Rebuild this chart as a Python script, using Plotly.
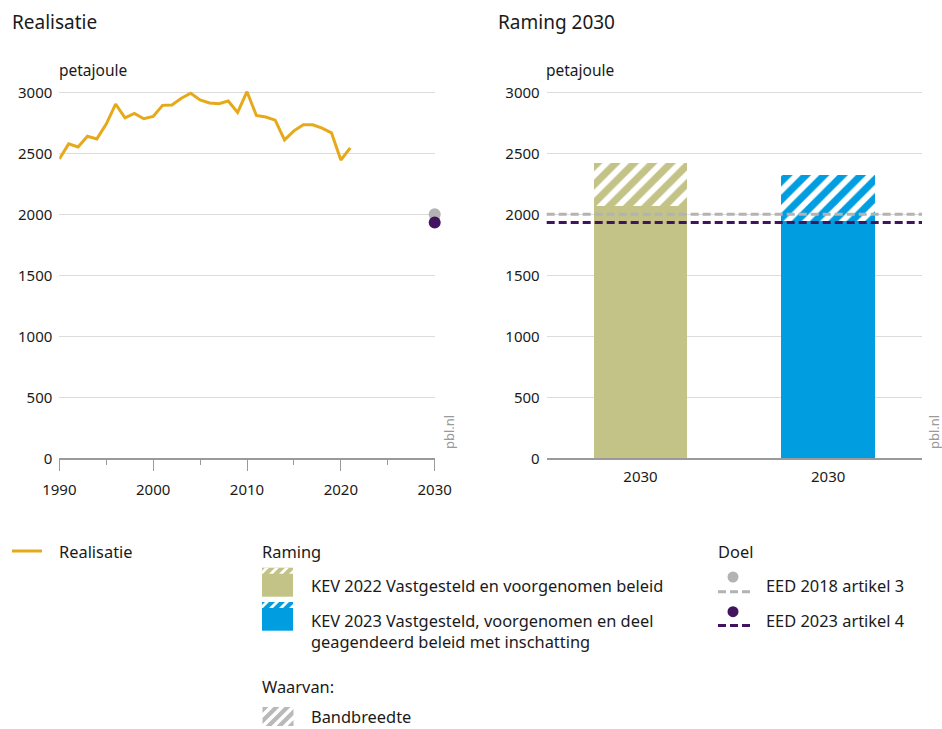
import plotly.graph_objects as go

# ---------------- data ----------------
years = [1990, 1991, 1992, 1993, 1994, 1995, 1996, 1997, 1998, 1999,
         2000, 2001, 2002, 2003, 2004, 2005, 2006, 2007, 2008, 2009,
         2010, 2011, 2012, 2013, 2014, 2015, 2016, 2017, 2018, 2019,
         2020, 2021]
realisatie = [2453, 2577, 2552, 2640, 2618, 2739, 2904, 2791, 2827, 2783,
              2802, 2893, 2896, 2951, 2992, 2937, 2912, 2907, 2929, 2835,
              3005, 2810, 2797, 2772, 2610, 2684, 2734, 2734, 2706, 2668,
              2445, 2544]

target_year = 2030
target_names = ["EED 2018 artikel 3", "EED 2023 artikel 4"]
target_values = [2000, 1933]

raming_keys = ["KEV 2022", "KEV 2023"]
raming_ticklabels = ["2030", "2030"]
raming_names = ["KEV 2022 Vastgesteld en voorgenomen beleid",
                "KEV 2023 Vastgesteld, voorgenomen en deel<br>geagendeerd beleid met inschatting"]
raming_low = [2070, 1945]
raming_high = [2418, 2322]

y_ticks = [0, 500, 1000, 1500, 2000, 2500, 3000]

# ---------------- style ----------------
W, H = 942, 729
FONT = "Noto Sans"
TXT = "#1a1a1a"
YELLOW = "#e6a91a"
OLIVE = "#c4c387"
BLUE = "#009ee0"
GREY_T = "#b3b3b3"
PURPLE = "#42145f"
GRID = "#dcdcdc"
AXIS = "#9a9a9a"
LEG = 16.4


def px(x):
    return x / W


def py(y):
    return 1 - y / H


fig = go.Figure()

# left: realisation line
fig.add_trace(go.Scatter(x=years, y=realisatie, mode="lines",
                         line=dict(color=YELLOW, width=3), xaxis="x", yaxis="y",
                         showlegend=False))
# left: targets as dots
fig.add_trace(go.Scatter(x=[target_year] * len(target_values), y=target_values,
                         mode="markers", cliponaxis=False,
                         marker=dict(color=[GREY_T, PURPLE], size=12, line=dict(width=0)),
                         xaxis="x", yaxis="y", showlegend=False))

# right: bars (solid part + hatched band on top)
colors = [OLIVE, BLUE]
fig.add_trace(go.Bar(x=raming_keys, y=raming_low, marker=dict(color=colors, line=dict(width=0)),
                     xaxis="x2", yaxis="y2", showlegend=False))
for i, k in enumerate(raming_keys):
    fig.add_trace(go.Bar(x=[k], y=[raming_high[i] - raming_low[i]],
                         marker=dict(color="white", line=dict(width=0),
                                     pattern=dict(shape="/", fgcolor=colors[i], bgcolor="white",
                                                  size=13, solidity=0.55, fillmode="replace")),
                         xaxis="x2", yaxis="y2", showlegend=False))

shapes = []
# target lines across right chart
for v, c in zip(target_values, [GREY_T, PURPLE]):
    shapes.append(dict(type="line", xref="x2 domain", yref="y2", x0=0, x1=1, y0=v, y1=v,
                       line=dict(color=c, width=3, dash="8px,4px"), layer="above"))

Y0, Y1 = 0, 3060
ydom = [py(458.3), py(458.3 - Y1 * 0.122)]

fig.update_layout(
    width=W, height=H, margin=dict(l=0, r=0, t=0, b=0, autoexpand=False),
    paper_bgcolor="white", plot_bgcolor="white",
    font=dict(family=FONT, size=15, color=TXT),
    barmode="stack", bargap=0.5,
    xaxis=dict(domain=[px(59.3), px(434.7)], range=[1990, 2030], tick0=1990, dtick=10,
               ticks="outside", ticklen=11, tickcolor=AXIS, tickwidth=1,
               showline=True, linecolor=AXIS, linewidth=1.5, showgrid=False, zeroline=False,
               minor=dict(dtick=5, ticks="outside", ticklen=5, tickcolor=AXIS, showgrid=False),
               ticklabelstandoff=6, tickfont=dict(size=15), automargin=False),
    yaxis=dict(domain=ydom, range=[Y0, Y1], tickvals=y_ticks, showgrid=True, gridcolor=GRID,
               gridwidth=1, zeroline=False, showline=False, ticks="", ticklabelstandoff=6,
               tickfont=dict(size=15), automargin=False),
    xaxis2=dict(domain=[px(546.7), px(922)], type="category", tickvals=raming_keys,
                ticktext=raming_ticklabels, showline=True, linecolor=AXIS, linewidth=1.5,
                ticks="", showgrid=False, zeroline=False, ticklabelstandoff=4,
                tickfont=dict(size=15), anchor="y2", automargin=False),
    yaxis2=dict(domain=ydom, range=[Y0, Y1], tickvals=y_ticks, showgrid=True, gridcolor=GRID,
                gridwidth=1, zeroline=False, showline=False, ticks="", ticklabelstandoff=6,
                tickfont=dict(size=15), anchor="x2", automargin=False),
)

ann = []


def text(x, y, s, size=LEG, color=TXT, xanchor="left", angle=0):
    ann.append(dict(x=px(x), y=py(y), xref="paper", yref="paper", text=s, showarrow=False,
                    xanchor=xanchor, yanchor="middle", align="left", textangle=angle,
                    font=dict(size=size, color=color, family=FONT)))


text(10, 22, "Realisatie", size=19)
text(496, 22, "Raming 2030", size=19)
text(57, 70, "petajoule", size=15.5)
text(544, 70, "petajoule", size=15.5)
text(449, 432, "pbl.nl", size=13, color="#9a9a9a", xanchor="center", angle=-90)
text(934, 432, "pbl.nl", size=13, color="#9a9a9a", xanchor="center", angle=-90)

# ---------------- legend ----------------
text(57, 551, "Realisatie")
text(260, 551, "Raming")
text(716, 551, "Doel")
text(309, 585, raming_names[0])
ann.append(dict(x=px(309), y=py(607), xref="paper", yref="paper", text=raming_names[1],
                showarrow=False, xanchor="left", yanchor="top", align="left",
                font=dict(size=LEG, color=TXT, family=FONT)))
text(764, 585, target_names[0])
text(764, 620, target_names[1])
text(260, 686, "Waarvan:")
text(309, 716, "Bandbreedte")

shapes.append(dict(type="line", xref="paper", yref="paper", x0=px(12), x1=px(42),
                   y0=py(551), y1=py(551), line=dict(color=YELLOW, width=3)))


def clip(poly, x0, x1, y0, y1):
    def clip_edge(pts, inside, inter):
        out = []
        for i in range(len(pts)):
            cur, prev = pts[i], pts[i - 1]
            if inside(cur):
                if not inside(prev):
                    out.append(inter(prev, cur))
                out.append(cur)
            elif inside(prev):
                out.append(inter(prev, cur))
        return out

    def ix(xc):
        return lambda a, b: (xc, a[1] + (b[1] - a[1]) * (xc - a[0]) / (b[0] - a[0]))

    def iy(yc):
        return lambda a, b: (a[0] + (b[0] - a[0]) * (yc - a[1]) / (b[1] - a[1]), yc)

    pts = poly
    for inside, inter in [(lambda p: p[0] >= x0, ix(x0)), (lambda p: p[0] <= x1, ix(x1)),
                          (lambda p: p[1] >= y0, iy(y0)), (lambda p: p[1] <= y1, iy(y1))]:
        if not pts:
            break
        pts = clip_edge(pts, inside, inter)
    return pts


def stripes(x0, x1, yt, yb, color, period, width, offset=0):
    h = yb - yt
    x = x0 - h + offset
    while x < x1:
        poly = [(x, yb), (x + width, yb), (x + width + h, yt), (x + h, yt)]
        c = clip(poly, x0, x1, yt, yb)
        if len(c) >= 3:
            path = "M " + " L ".join(f"{px(a):.5f},{py(b):.5f}" for a, b in c) + " Z"
            shapes.append(dict(type="path", xref="paper", yref="paper", path=path,
                               fillcolor=color, line=dict(width=0)))
        x += period


# raming swatches
for (yt, yb), c in zip([(567.7, 596.7), (602, 630.7)], colors):
    shapes.append(dict(type="rect", xref="paper", yref="paper", x0=px(262), x1=px(293),
                       y0=py(yt), y1=py(yb), fillcolor=c, line=dict(width=0)))
    stripes(262, 293, yt, yt + 6, "white", 10, 4, offset=3)

# bandbreedte swatch
stripes(262.5, 293.5, 707, 726, "#b9b9b9", 11, 6, offset=0)

# doel swatches
for (yd, yl), c in zip([(577, 591.7), (611.7, 625.5)], [GREY_T, PURPLE]):
    shapes.append(dict(type="circle", xref="paper", yref="paper", x0=px(727.5), x1=px(738.5),
                       y0=py(yd + 5.5), y1=py(yd - 5.5), fillcolor=c, line=dict(width=0)))
    shapes.append(dict(type="line", xref="paper", yref="paper", x0=px(718), x1=px(750),
                       y0=py(yl), y1=py(yl), line=dict(color=c, width=3, dash="8px,4px")))

fig.update_layout(shapes=shapes, annotations=ann)
fig.write_html("out.html", config={"displayModeBar": False},
               post_script="document.body.style.margin='0';document.body.style.overflow='hidden';")
